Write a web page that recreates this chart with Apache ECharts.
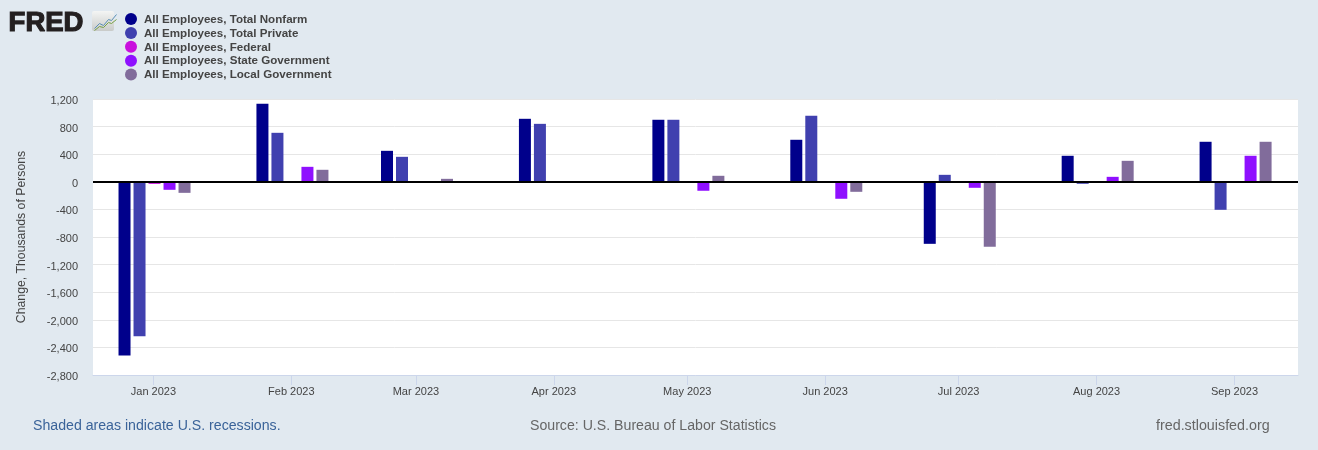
<!DOCTYPE html>
<html><head><meta charset="utf-8">
<style>html,body{margin:0;padding:0;background:#e1e9f0}#c{width:1318px;height:450px}</style>
<script src="https://cdn.jsdelivr.net/npm/echarts@6/dist/echarts.min.js"></script>
</head><body><div id="c"></div>
<script>
const months = ['2023-01-01','2023-02-01','2023-03-01','2023-04-01','2023-05-01','2023-06-01','2023-07-01','2023-08-01','2023-09-01'];
const tickLabels = ['Jan 2023','Feb 2023','Mar 2023','Apr 2023','May 2023','Jun 2023','Jul 2023','Aug 2023','Sep 2023'];
const yTicks = [1200,800,400,0,-400,-800,-1200,-1600,-2000,-2400,-2800];
const nonfarm = [-2517,1130,449,913,899,609,-899,377,580];
const privateJobs = [-2240,710,362,840,899,957,101,-29,-406];
const federal = [-30,0,0,0,0,0,0,0,0];
const stateGov = [-116,217,0,0,-130,-246,-87,72,377];
const localGov = [-160,174,43,0,87,-145,-942,304,580];
const names = ['All Employees, Total Nonfarm','All Employees, Total Private','All Employees, Federal','All Employees, State Government','All Employees, Local Government'];
const colors = ['#00008b','#4040af','#c90fdd','#8f10ff','#816c9b'];
const values = [nonfarm, privateJobs, federal, stateGov, localGov];
const DAY = 86400000;
const t = s => new Date(s + 'T00:00:00').getTime();
const tickTimes = months.map(m => t(m) - 0.25 * DAY);

const chart = echarts.init(document.getElementById('c'), null, {renderer:'canvas'});
const series = names.map((n,i)=>({
  name:n, type:'bar', barWidth:12, barGap:'25%',
  itemStyle:{color:colors[i]},
  data: months.map((m,j)=>[t(m), values[i][j]]),
  emphasis:{disabled:true},
  markLine: i===0 ? {silent:true, symbol:'none', z:10, animation:false, label:{show:false},
    lineStyle:{color:'#000',width:2,type:'solid'}, data:[{yAxis:0}]} : undefined
}));
const txt = (x,y,text,fill,size,extra) => ({type:'text',left:x,top:y,silent:true,
  style:Object.assign({text,fill,font:size+'px "Liberation Sans",Arial,sans-serif'},extra||{})});
chart.setOption({
  animation:false,
  backgroundColor:'#e1e9f0',
  textStyle:{fontFamily:'"Liberation Sans",Arial,sans-serif'},
  grid:{left:93,right:20,top:99,bottom:75,backgroundColor:'#fff',show:true,borderWidth:0},
  legend:{show:true,orient:'vertical',left:125,top:13,itemGap:1.4,itemWidth:12,itemHeight:12,icon:'circle',
    selectedMode:false,
    formatter:'{a|{name}}',
    textStyle:{color:'#444',fontSize:11.6,fontWeight:'bold',
      rich:{a:{color:'#444',fontSize:11.6,fontWeight:'bold',padding:[1,0,0,2]}}},
    padding:0,data:names},
  xAxis:{type:'value',scale:true,min:t('2023-01-01')-13.83*DAY,max:t('2023-09-01')+14.03*DAY,
    axisLine:{show:true,onZero:false,lineStyle:{color:'#ccd6eb',width:1}},
    splitLine:{show:false},
    axisTick:{show:true,length:10,lineStyle:{color:'#ccd6eb'},customValues:tickTimes},
    axisLabel:{color:'#444',fontSize:11,margin:11,hideOverlap:false,showMinLabel:true,showMaxLabel:true,
      customValues:tickTimes,
      formatter:v=>tickLabels[tickTimes.indexOf(+v)]||''}},
  yAxis:{type:'value',min:-2800,max:1200,interval:400,
    name:'Change, Thousands of Persons',nameLocation:'middle',nameGap:65,nameRotate:90,
    nameTextStyle:{color:'#444',fontSize:12.25},
    axisLine:{show:false},axisTick:{show:false},
    splitLine:{lineStyle:{color:'#e6e6e6',width:1}},
    axisLabel:{color:'#444',fontSize:11,margin:15,
      formatter:v=>yTicks.includes(v)?'{a|'+echarts.format.addCommas(v)+'}':'',
      rich:{a:{color:'#444',fontSize:11,padding:[4,0,0,0]}}}},
  series,
  graphic:[
    {type:'text',left:8,top:9,silent:true,style:{text:'FRED',fill:'#231f20',stroke:'#231f20',lineWidth:1.2,font:'900 27.5px "Liberation Sans",Arial,sans-serif'}},
    {type:'rect',left:92,top:11,silent:true,shape:{width:22,height:20,r:2},style:{fill:new echarts.graphic.LinearGradient(0,0,0,1,[{offset:0,color:'#f4f5f4'},{offset:1,color:'#c9cbc9'}])}},
    {type:'polyline',left:92,top:12,silent:true,shape:{points:[[0,14],[5,9],[9,11],[14,5],[17,6],[22,0]]},style:{fill:'none',stroke:'#5a8fb5',lineWidth:1}},
    {type:'polyline',left:92,top:17,silent:true,shape:{points:[[0,11],[5,7],[9,8],[14,3],[17,4],[22,0]]},style:{fill:'none',stroke:'#76a045',lineWidth:1}},
    txt(33,419,'Shaded areas indicate U.S. recessions.','#3a6399',14.15),
    txt(530,419,'Source: U.S. Bureau of Labor Statistics','#666',14.15),
    txt(1156,419,'fred.stlouisfed.org','#666',14.3)
  ]
});
</script></body></html>
